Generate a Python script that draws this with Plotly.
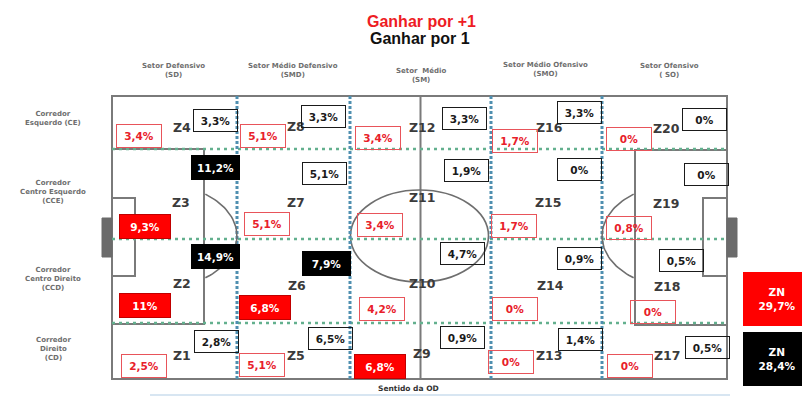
import numpy as np
import plotly.graph_objects as go

# ---------------- data ----------------
zonas = ["Z1", "Z2", "Z3", "Z4", "Z5", "Z6", "Z7", "Z8", "Z9", "Z10",
         "Z11", "Z12", "Z13", "Z14", "Z15", "Z16", "Z17", "Z18", "Z19", "Z20"]
# % per zone, "Ganhar por +1" (red) and "Ganhar por 1" (black)
ganhar_por_mais_1 = [2.5, 11.0, 9.3, 3.4, 5.1, 6.8, 5.1, 5.1, 6.8, 4.2,
                     3.4, 3.4, 0.0, 0.0, 1.7, 1.7, 0.0, 0.0, 0.8, 0.0]
ganhar_por_1 = [2.8, 14.9, 11.2, 3.3, 6.5, 7.9, 5.1, 3.3, 0.9, 4.7,
                1.9, 3.3, 1.4, 0.9, 0.0, 3.3, 0.5, 0.5, 0.0, 0.0]
zn_mais_1 = 29.7
zn_1 = 28.4
setores = ["Setor Defensivo<br>(SD)", "Setor Médio Defensivo<br>(SMD)",
           "Setor  Médio<br>(SM)", "Setor Médio Ofensivo<br>(SMO)",
           "Setor Ofensivo<br>( SO)"]
corredores = ["Corredor<br>Esquerdo (CE)", "Corredor<br>Centro Esquerdo<br>(CCE)",
              "Corredor<br>Centro Direito<br>(CCD)", "Corredor<br>Direito<br>(CD)"]
titulo_mais_1 = "Ganhar por +1"
titulo_1 = "Ganhar por 1"
# number of highest zones drawn as solid boxes in each series
destaques_mais_1 = 4
destaques_1 = 3

# ---------------- layout (canvas units) ----------------
W, H = 802, 396
PX0, PX1, PY0, PY1 = 112, 727, 96, 379          # pitch outline
COL_LINES = [237, 350, 491, 602]                 # sector separators
ROW_LINES = [149, 239, 323]                      # corridor separators
MID_X = 420.5

setor_pos = [(173, 70), (293, 70), (421, 75), (545, 69), (669, 70)]
corredor_pos = [(53, 118.5), (53, 191.5), (53, 279), (53, 349)]

zona_pos = [(182, 355), (182, 283), (181, 202), (182, 127),
            (296, 355), (297, 285), (296, 202), (296, 126),
            (422, 353), (422, 283), (422, 197), (422, 127),
            (549, 355), (550, 285), (548, 202), (549, 127),
            (667, 355), (667, 286), (666, 203), (666, 128)]
caixa_vermelha_pos = [(144, 366), (145, 305), (145, 226), (139, 136),
                      (262, 365), (265, 307), (267, 224), (263, 136),
                      (380, 366), (382, 309), (380, 225), (378, 138),
                      (511, 362), (515, 309), (514, 226), (515, 141),
                      (630, 366), (653, 312), (629, 228), (629, 139)]
caixa_preta_pos = [(216, 341), (215, 256), (215, 167), (215, 120),
                   (330, 338), (326, 263), (324, 173), (323, 116),
                   (462, 337), (462, 253), (466, 170), (464, 118),
                   (580, 339), (579, 258), (579, 169), (579, 112),
                   (707, 347), (681, 260), (706, 174), (704, 119)]

VERMELHO = "#ff0000"
TEXTO_VERMELHO = "#e8202a"
CINZA_LINHA = "#7a7a7a"
AZUL_PONT = "#4f8fb0"
VERDE_PONT = "#63b08e"
FONTE = "DejaVu Sans"


def pct(v):
    return f"{v:g}".replace(".", ",") + "%"


def top_idx(vals, n):
    return set(sorted(range(len(vals)), key=lambda i: -vals[i])[:n])


fig = go.Figure()
shapes = []
annotations = []


def line(x0, y0, x1, y1, color=CINZA_LINHA, width=2, dash="solid"):
    shapes.append(dict(type="line", xref="x", yref="y", x0=x0, y0=y0, x1=x1, y1=y1,
                       line=dict(color=color, width=width, dash=dash), layer="below"))


def rect(x0, y0, x1, y1, color=CINZA_LINHA, width=2, fill="rgba(0,0,0,0)"):
    shapes.append(dict(type="rect", xref="x", yref="y", x0=x0, y0=y0, x1=x1, y1=y1,
                       line=dict(color=color, width=width), fillcolor=fill, layer="below"))


# pitch markings
rect(PX0, PY0, PX1, PY1)
line(MID_X, PY0, MID_X, PY1)
rect(PX0, 149, 204, 324)            # left penalty area
rect(PX0, 198, 135, 276)            # left goal area
rect(102, 218, PX0, 257, color="#6b6b6b", width=1, fill="#6b6b6b")
rect(635, 150, PX1, 325)            # right penalty area
rect(703, 198, PX1, 276)            # right goal area
rect(PX1, 218, 737, 257, color="#6b6b6b", width=1, fill="#6b6b6b")
shapes.append(dict(type="circle", xref="x", yref="y", x0=350.5, x1=488.5, y0=190, y1=282,
                   line=dict(color="#6e6e6e", width=1.6), layer="below"))

# penalty arcs (elliptical, outside the boxes)
t = np.linspace(-np.pi / 2, np.pi / 2, 80)
for cx, sign, limit in [(159, 1, 204), (680, -1, 635)]:
    xs = cx + sign * 78 * np.cos(t)
    ys = 236 + 52 * np.sin(t)
    keep = (xs >= limit) if sign > 0 else (xs <= limit)
    fig.add_trace(go.Scatter(x=xs[keep], y=ys[keep], mode="lines",
                             line=dict(color="#6e6e6e", width=1.6),
                             hoverinfo="skip", showlegend=False))

# zone separators
for y in ROW_LINES:
    line(PX0, y, PX1, y, color=VERDE_PONT, width=2.6, dash="3px,4px")
for x in COL_LINES:
    line(x, PY0, x, PY1, color=AZUL_PONT, width=3, dash="3px,2px")

# faint direction bar at the bottom
line(150, 395, 730, 395, color="#d8e6f2", width=2)


def text(x, y, s, size, color, bold=False, family=FONTE, **kw):
    annotations.append(dict(x=x, y=y, xref="x", yref="y", text=s, showarrow=False,
                            font=dict(family=family, size=size, color=color,
                                      weight="bold" if bold else "normal"), **kw))


# titles
text(421, 21, titulo_mais_1, 16, "#ee1c24", bold=True, family="Liberation Sans, Arial")
text(420, 38, titulo_1, 16, "#111111", bold=True, family="Liberation Sans, Arial")

# sector and corridor headers
for s, (x, y) in zip(setores, setor_pos):
    text(x, y, s, 7, "#6e6e6e", bold=True)
for c, (x, y) in zip(corredores, corredor_pos):
    text(x, y, c, 7, "#6e6e6e", bold=True)

text(408, 388.5, "Sentido da OD", 7.5, "#333333", bold=True)

# zone names
for z, (x, y) in zip(zonas, zona_pos):
    text(x, y, z, 12.5, "#3b3b3b", bold=True)

# value boxes
top_v = top_idx(ganhar_por_mais_1, destaques_mais_1)
top_p = top_idx(ganhar_por_1, destaques_1)
for i, v in enumerate(ganhar_por_mais_1):
    x, y = caixa_vermelha_pos[i]
    if i in top_v:
        text(x, y, pct(v), 10.5, "#ffffff", bold=True, width=50, height=23,
             bgcolor=VERMELHO, bordercolor="#c00000", borderwidth=1, borderpad=0)
    else:
        text(x, y, pct(v), 10.5, TEXTO_VERMELHO, bold=True, width=44, height=22,
             bgcolor="rgba(255,255,255,0)", bordercolor="#e8545a", borderwidth=1, borderpad=0)
for i, v in enumerate(ganhar_por_1):
    x, y = caixa_preta_pos[i]
    if i in top_p:
        text(x, y, pct(v), 10.5, "#ffffff", bold=True, width=47, height=23,
             bgcolor="#000000", bordercolor="#000000", borderwidth=1, borderpad=0)
    else:
        text(x, y, pct(v), 10.5, "#1a1a1a", bold=True, width=43, height=21,
             bgcolor="rgba(255,255,255,0)", bordercolor="#1a1a1a", borderwidth=1, borderpad=0)

# ZN totals
text(777, 298.5, "ZN<br>" + pct(zn_mais_1), 10.5, "#ffffff", bold=True, width=66, height=52,
     bgcolor=VERMELHO, bordercolor=VERMELHO, borderwidth=1, borderpad=0)
text(777, 359, "ZN<br>" + pct(zn_1), 10.5, "#ffffff", bold=True, width=66, height=52,
     bgcolor="#000000", bordercolor="#000000", borderwidth=1, borderpad=0)

fig.update_layout(
    width=W, height=H,
    margin=dict(l=0, r=0, t=0, b=0),
    paper_bgcolor="#ffffff", plot_bgcolor="#ffffff",
    xaxis=dict(range=[0, W], visible=False, fixedrange=True),
    yaxis=dict(range=[H, 0], visible=False, fixedrange=True),
    shapes=shapes, annotations=annotations, showlegend=False,
)
fig.write_html("out.html")
